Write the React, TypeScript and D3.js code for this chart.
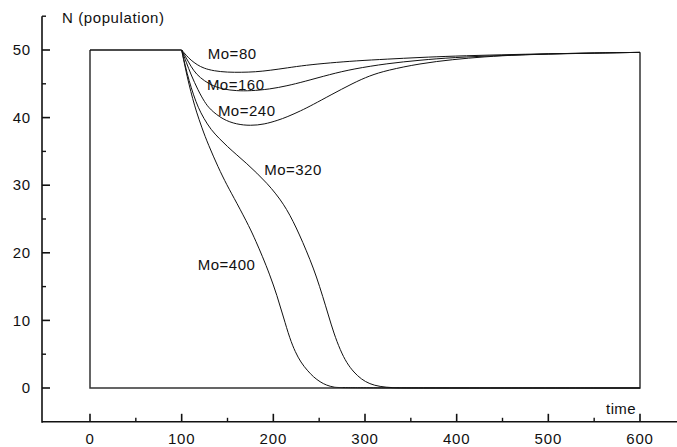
import React from "react";
import * as d3 from "d3";

type Pt = [number, number];

// series: population N over time for each Mo value
const seriesNames: string[] = ["Mo=80", "Mo=160", "Mo=240", "Mo=320", "Mo=400"];

const mo80: Pt[] = [
  [100, 50], [105, 49.2], [110, 48.5], [117, 47.8], [124, 47.3], [135, 46.9], [150, 46.7],
  [165, 46.7], [180, 46.75], [197, 47.0], [215, 47.35], [235, 47.75], [262, 48.1], [290, 48.4],
  [324, 48.65], [360, 48.9], [396, 49.1], [450, 49.3], [500, 49.45], [550, 49.55], [600, 49.65],
];
const mo160: Pt[] = [
  [100, 50], [105, 48.8], [110, 47.6], [116, 46.4], [125, 45.4], [134, 44.7], [145, 44.2],
  [160, 43.95], [175, 43.95], [196, 44.2], [215, 44.7], [233, 45.3], [262, 46.4], [287, 47.2],
  [324, 48.0], [360, 48.5], [396, 48.9], [450, 49.2], [500, 49.4], [550, 49.55], [600, 49.65],
];
const mo240: Pt[] = [
  [100, 50], [105, 48.2], [110, 46.4], [118, 44.0], [125, 42.3], [131, 41.2], [145, 39.7],
  [160, 39.0], [175, 38.8], [190, 39.0], [205, 39.6], [215, 40.1], [230, 41.0], [243, 41.9],
  [262, 43.3], [287, 45.1], [305, 46.2], [324, 47.0], [360, 48.0], [396, 48.6], [430, 49.0],
  [469, 49.3], [520, 49.5], [600, 49.65],
];
const mo320: Pt[] = [
  [100, 50], [104, 47.6], [108, 45.5], [113, 43.3], [118, 41.5], [124, 39.9], [132, 38.2],
  [141, 36.9], [150, 35.7], [160, 34.5], [171, 33.2], [182, 31.8], [193, 30.3], [203, 28.7],
  [211, 27.2], [218, 25.6], [225, 23.7], [232, 21.6], [240, 19.0], [247, 16.5], [254, 13.5],
  [260, 10.8], [266, 8.1], [273, 5.6], [280, 3.7], [288, 2.3], [296, 1.3], [305, 0.6],
  [316, 0.2], [330, 0.03], [345, 0], [600, 0],
];
const mo400: Pt[] = [
  [100, 50], [104, 47.3], [108, 44.9], [112, 42.8], [116, 40.9], [122, 38.5], [129, 36.0],
  [140, 32.6], [149, 30.1], [160, 27.4], [174, 23.8], [181, 21.7], [188, 19.5], [196, 16.8],
  [204, 13.7], [211, 10.5], [218, 7.3], [224, 5.3], [230, 3.8], [237, 2.6], [244, 1.6],
  [251, 0.9], [258, 0.4], [266, 0.1], [275, 0], [600, 0],
];
const seriesData: Pt[][] = [mo80, mo160, mo240, mo320, mo400];

// label anchors in data coordinates (time, N)
const labelTime: number[] = [128.5, 127.5, 139.5, 190, 117.5];
const labelN: number[] = [48.7, 44.1, 40.2, 31.5, 17.5];

const xTicksMajor: number[] = [0, 100, 200, 300, 400, 500, 600];
const xTicksMinor: number[] = [50, 150, 250, 350, 450, 550];
const yTicksMajor: number[] = [0, 10, 20, 30, 40, 50];
const yTicksMinor: number[] = [5, 15, 25, 35, 45, 55];

const W = 677;
const H = 447;

export default function App() {
  const x = d3.scaleLinear().domain([0, 600]).range([90, 640]);
  const y = d3.scaleLinear().domain([0, 50]).range([388, 50]);

  const axisX = 42; // y-axis position in px
  const axisY = y(-5);
  const yTop = y(55);

  const line = d3
    .line<Pt>()
    .x((d) => x(d[0]))
    .y((d) => y(d[1]))
    .curve(d3.curveBasis);

  const font = "'Liberation Sans', Arial, Helvetica, sans-serif";

  return (
    <svg
      width={W}
      height={H}
      style={{ position: "absolute", left: 0, top: 0, background: "#fff" }}
      fontFamily={font}
    >
      <rect x={0} y={0} width={W} height={H} fill="#fff" />
      {/* frame lines of the plotted region */}
      <path
        d={`M${x(0)},${y(50)}L${x(0)},${y(0)}L${x(600)},${y(0)}L${x(600)},${y(49.65)}`}
        fill="none"
        stroke="#333"
        strokeWidth={1.5}
      />
      <path d={`M${x(0)},${y(50)}L${x(100)},${y(50)}`} fill="none" stroke="#111" strokeWidth={1.3} />
      {seriesData.map((s, i) => (
        <path key={i} d={line(s) || ""} fill="none" stroke="#111" strokeWidth={1} />
      ))}
      {seriesNames.map((n, i) => (
        <text
          key={n}
          x={x(labelTime[i])}
          y={y(labelN[i])}
          fontSize={15}
          letterSpacing={0.5}
          fill="#111"
        >
          {n}
        </text>
      ))}
      {/* y axis */}
      <line x1={axisX} x2={axisX} y1={yTop} y2={axisY + 1} stroke="#111" strokeWidth={1.6} />
      {yTicksMajor.map((t) => (
        <g key={"ym" + t}>
          <line x1={axisX} x2={axisX + 8} y1={y(t)} y2={y(t)} stroke="#111" strokeWidth={1.6} />
          <text
            x={31}
            y={y(t)}
            dy="0.35em"
            textAnchor="end"
            fontSize={15}
            letterSpacing={0.8}
            fill="#111"
          >
            {t}
          </text>
        </g>
      ))}
      {yTicksMinor.map((t) => (
        <line key={"yn" + t} x1={axisX} x2={axisX + 4} y1={y(t)} y2={y(t)} stroke="#111" strokeWidth={1.4} />
      ))}
      {/* x axis */}
      <line x1={axisX} x2={W} y1={axisY} y2={axisY} stroke="#111" strokeWidth={1.6} />
      {xTicksMajor.map((t) => (
        <g key={"xm" + t}>
          <line x1={x(t)} x2={x(t)} y1={axisY} y2={axisY - 8} stroke="#111" strokeWidth={1.6} />
          <text x={x(t)} y={444} textAnchor="middle" fontSize={15} letterSpacing={0.8} fill="#111">
            {t}
          </text>
        </g>
      ))}
      {xTicksMinor.map((t) => (
        <line key={"xn" + t} x1={x(t)} x2={x(t)} y1={axisY} y2={axisY - 4} stroke="#111" strokeWidth={1.4} />
      ))}
      <text x={62} y={23} fontSize={15} letterSpacing={0.6} fill="#111">
        N (population)
      </text>
      <text x={636} y={414} textAnchor="end" fontSize={15} letterSpacing={0.4} fill="#111">
        time
      </text>
    </svg>
  );
}
